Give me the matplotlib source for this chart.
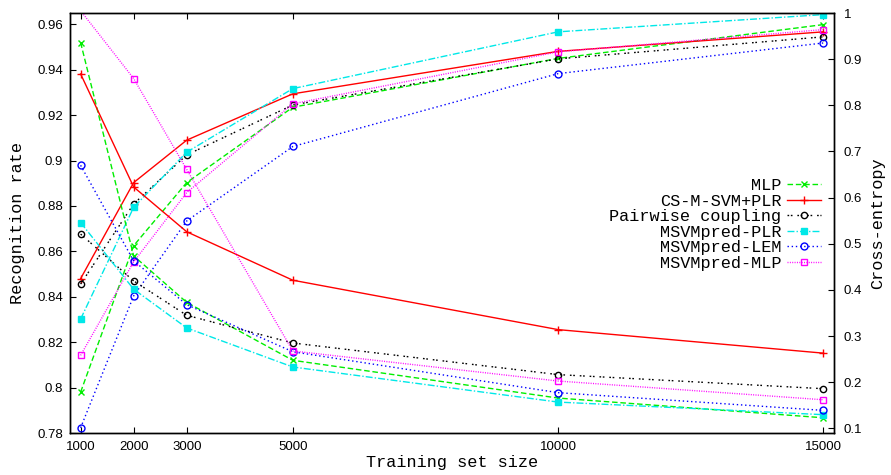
import matplotlib
matplotlib.use('Agg')
import matplotlib.pyplot as plt
import numpy as np

# training set sizes
sizes = [1000, 2000, 3000, 5000, 10000, 15000]

# recognition rate (left axis)
mlp_rr = [0.798, 0.8625, 0.8903, 0.9235, 0.9450, 0.9599]
cs_rr = [0.848, 0.8903, 0.909, 0.9294, 0.9481, 0.9567]
pw_rr = [0.8456, 0.8809, 0.9025, 0.9245, 0.9448, 0.9545]
plr_rr = [0.8302, 0.8794, 0.9037, 0.9317, 0.9567, 0.9643]
lem_rr = [0.7823, 0.8404, 0.8734, 0.9062, 0.9383, 0.9518]
mlp2_rr = [0.8142, 0.8554, 0.8859, 0.925, 0.9479, 0.9577]

# cross-entropy (right axis)
mlp_ce = [0.936, 0.4737, 0.373, 0.2475, 0.1657, 0.123]
cs_ce = [0.868, 0.623, 0.526, 0.421, 0.314, 0.263]
pw_ce = [0.521, 0.4195, 0.345, 0.285, 0.2165, 0.186]
plr_ce = [0.546, 0.4015, 0.3176, 0.233, 0.157, 0.1297]
lem_ce = [0.670, 0.463, 0.368, 0.266, 0.1774, 0.139]
mlp2_ce = [1.005, 0.858, 0.661, 0.2677, 0.2026, 0.162]

labels = ['MLP', 'CS-M-SVM+PLR', 'Pairwise coupling',
          'MSVMpred-PLR', 'MSVMpred-LEM', 'MSVMpred-MLP']

x_ticks = [1000, 2000, 3000, 5000, 10000, 15000]
y1_ticks = [0.78, 0.8, 0.82, 0.84, 0.86, 0.88, 0.9, 0.92, 0.94, 0.96]
y1_labels = ['0.78', '0.8', '0.82', '0.84', '0.86', '0.88', '0.9', '0.92', '0.94', '0.96']
y2_ticks = [0.1, 0.2, 0.3, 0.4, 0.5, 0.6, 0.7, 0.8, 0.9, 1.0]
y2_labels = ['0.1', '0.2', '0.3', '0.4', '0.5', '0.6', '0.7', '0.8', '0.9', '1']

# gnuplot-like line styles
styles = [
    dict(color='#00ee00', ls=(0, (4, 2)), marker='x', ms=5, mfc='none'),
    dict(color='#ff0000', ls='-', marker='+', ms=6, mfc='none'),
    dict(color='#000000', ls=(0, (1.2, 1.2, 1.2, 3.5)), marker='o', ms=4.5, mfc='none'),
    dict(color='#00e8e8', ls=(0, (5, 1.5, 1, 1.5)), marker='s', ms=5, mfc='#00e8e8'),
    dict(color='#0000ff', ls=(0, (1, 2)), marker='o', ms=5, mfc='none'),
    dict(color='#ff00ff', ls=(0, (0.7, 1)), marker='s', ms=5, mfc='none'),
]

mono = 'Liberation Mono'
tickfont = ['Liberation Sans Narrow', 'Liberation Sans', 'DejaVu Sans']

fig = plt.figure(figsize=(8.91, 4.75), dpi=100)
ax = fig.add_axes([70 / 891, 42 / 475, 764 / 891, 420 / 475])
ax2 = ax.twinx()

ax.set_xlim(800, 15200)
ax.set_ylim(0.78, 0.965)
ax2.set_ylim(0.09, 1.0)

rr_all = [mlp_rr, cs_rr, pw_rr, plr_rr, lem_rr, mlp2_rr]
ce_all = [mlp_ce, cs_ce, pw_ce, plr_ce, lem_ce, mlp2_ce]

handles = []
for rr, ce, st, lab in zip(rr_all, ce_all, styles, labels):
    h, = ax.plot(sizes, rr, lw=1, mew=1, label=lab, **st)
    handles.append(h)
    # gnuplot does not draw points outside the range
    keep = [i for i, v in enumerate(ce) if v <= 1.0]
    ax2.plot(sizes, ce, lw=1, mew=1, markevery=keep, **st)

ax.set_xticks(x_ticks)
ax.set_xticklabels([str(v) for v in x_ticks])
ax.set_yticks(y1_ticks)
ax.set_yticklabels(y1_labels)
ax2.set_yticks(y2_ticks)
ax2.set_yticklabels(y2_labels)

ax.tick_params(axis='x', direction='in', length=4.5, top=True, pad=6)
ax.tick_params(axis='y', direction='in', length=4.5, pad=5)
ax2.tick_params(axis='y', direction='in', length=4.5, pad=7)
for a in (ax, ax2):
    for t in a.get_xticklabels() + a.get_yticklabels():
        t.set_family(tickfont)
        t.set_fontsize(9.5)
    for s in a.spines.values():
        s.set_linewidth(1)

ax.set_xlabel('Training set size', family=mono, fontsize=12.2)
ax.xaxis.set_label_coords(0.5, -0.052)
ax.set_ylabel('Recognition rate', family=mono, fontsize=12.2)
ax.yaxis.set_label_coords(-0.069, 0.5)
ax.yaxis.label.set_va('center')
ax2.set_ylabel('Cross-entropy', family=mono, fontsize=12.2, rotation=90)
ax2.yaxis.set_label_coords(1.0576, 0.5)
ax2.yaxis.label.set_va('center')

leg = ax2.legend(handles=handles, loc='upper right', markerfirst=False,
                 frameon=False, prop={'family': mono, 'size': 12.2},
                 bbox_to_anchor=(821 / 891, 1 - 178 / 475),
                 bbox_transform=fig.transFigure, borderaxespad=0, borderpad=0,
                 handlelength=2.0, handletextpad=0.35, labelspacing=0.03)
for t in leg.get_texts():
    t.set_ha('right')

fig.savefig('out.png', dpi=100)
